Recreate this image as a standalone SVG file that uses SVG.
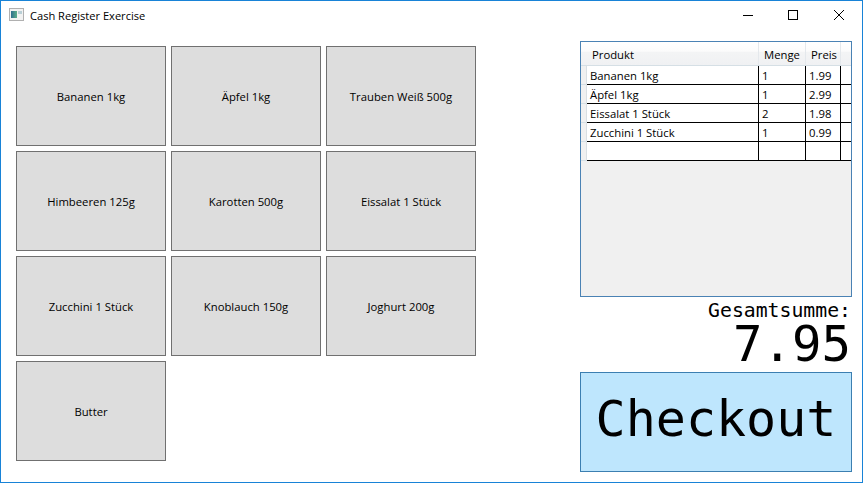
<svg xmlns="http://www.w3.org/2000/svg" width="863" height="483" viewBox="0 0 863 483">
<style>
.ui{font-family:"Open Sans","Noto Sans","Liberation Sans",sans-serif;font-size:11.300px;fill:#000}
.btn rect{fill:#dddddd;stroke:#707070;stroke-width:1}
.btn text{text-anchor:middle}
.mono{font-family:"DejaVu Sans Mono","Liberation Mono",monospace;fill:#000}
.grid{stroke:#000;stroke-width:1;fill:none}
</style>
<defs>
<linearGradient id="hdr" x1="0" y1="0" x2="0" y2="1"><stop offset="0" stop-color="#ffffff"/><stop offset="0.4" stop-color="#fbfbfb"/><stop offset="0.45" stop-color="#f3f4f5"/><stop offset="1" stop-color="#f0f1f3"/></linearGradient>
<linearGradient id="ico" x1="0" y1="0" x2="1" y2="0"><stop offset="0" stop-color="#2f6f8f"/><stop offset="1" stop-color="#5cae8a"/></linearGradient>
</defs>
<rect x="0" y="0" width="863" height="483" fill="#fff"/>
<rect x="0.5" y="0.5" width="862" height="482" fill="none" stroke="#1883d7"/>
<g id="titlebar">
<rect x="9.5" y="8.5" width="14" height="12" fill="#f2f2f2" stroke="#b0b0b0"/>
<rect x="11" y="11" width="6" height="7" fill="url(#ico)"/>
<rect x="18" y="11" width="4" height="3" fill="#b9cfd6"/>
<text class="ui" x="30" y="20" style="font-size:11.1px">Cash Register Exercise</text>
<path d="M743 15.5H753" stroke="#000" fill="none"/>
<rect x="788.5" y="10.5" width="9" height="9" fill="none" stroke="#000"/>
<path d="M834 10L844 20M844 10L834 20" stroke="#000" fill="none"/>
</g>
<g id="btn-1" class="btn"><rect x="16.500" y="46.500" width="149" height="99"/><text class="ui" x="91" y="101">Bananen 1kg</text></g>
<g id="btn-2" class="btn"><rect x="171.500" y="46.500" width="149" height="99"/><text class="ui" x="246" y="101">Äpfel 1kg</text></g>
<g id="btn-3" class="btn"><rect x="326.500" y="46.500" width="149" height="99"/><text class="ui" x="401" y="101">Trauben Weiß 500g</text></g>
<g id="btn-4" class="btn"><rect x="16.500" y="151.500" width="149" height="99"/><text class="ui" x="91" y="206">Himbeeren 125g</text></g>
<g id="btn-5" class="btn"><rect x="171.500" y="151.500" width="149" height="99"/><text class="ui" x="246" y="206">Karotten 500g</text></g>
<g id="btn-6" class="btn"><rect x="326.500" y="151.500" width="149" height="99"/><text class="ui" x="401" y="206">Eissalat 1 Stück</text></g>
<g id="btn-7" class="btn"><rect x="16.500" y="256.500" width="149" height="99"/><text class="ui" x="91" y="311">Zucchini 1 Stück</text></g>
<g id="btn-8" class="btn"><rect x="171.500" y="256.500" width="149" height="99"/><text class="ui" x="246" y="311">Knoblauch 150g</text></g>
<g id="btn-9" class="btn"><rect x="326.500" y="256.500" width="149" height="99"/><text class="ui" x="401" y="311">Joghurt 200g</text></g>
<g id="btn-10" class="btn"><rect x="16.500" y="361.500" width="149" height="99"/><text class="ui" x="91" y="416">Butter</text></g>
<g id="table">
<rect x="580.500" y="41.500" width="271" height="255" fill="#f0f0f0" stroke="#4a82b4"/>
<rect x="581" y="42" width="270" height="23" fill="url(#hdr)"/>
<path d="M581 65.500H851" stroke="#d5dfe5" fill="none"/>
<path d="M758.500 42V65M805.500 42V65M840.500 42V65" stroke="#e4e8ec" fill="none"/>
<rect x="587" y="66" width="264" height="95" fill="#fff"/>
<path d="M581 84.500H587M581 103.500H587M581 122.500H587M581 141.500H587M581 160.500H587" stroke="#d5dfe5" fill="none"/>
<path d="M586.500 66V161" stroke="#d9dfe3" fill="none"/>
<path class="grid" d="M587 84.500H851M587 103.500H851M587 122.500H851M587 141.500H851M587 160.500H851M758.500 66V161M805.500 66V161M840.500 66V161"/>
<text class="ui" x="592" y="59">Produkt</text>
<text class="ui" x="764" y="59">Menge</text>
<text class="ui" x="811" y="59">Preis</text>
<text class="ui" x="590" y="80">Bananen 1kg</text><text class="ui" x="762" y="80">1</text><text class="ui" x="809" y="80">1.99</text>
<text class="ui" x="590" y="99">Äpfel 1kg</text><text class="ui" x="762" y="99">1</text><text class="ui" x="809" y="99">2.99</text>
<text class="ui" x="590" y="118">Eissalat 1 Stück</text><text class="ui" x="762" y="118">2</text><text class="ui" x="809" y="118">1.98</text>
<text class="ui" x="590" y="137">Zucchini 1 Stück</text><text class="ui" x="762" y="137">1</text><text class="ui" x="809" y="137">0.99</text>
</g>
<g id="total">
<text class="mono" x="851" y="317" font-size="19.800" text-anchor="end">Gesamtsumme:</text>
<text class="mono" x="851" y="361" font-size="49" text-anchor="end">7.95</text>
</g>
<g id="checkout">
<rect x="580.500" y="372.500" width="271" height="99" fill="#bee6fd" stroke="#3c7fb1"/>
<text class="mono" x="716" y="436" font-size="50" text-anchor="middle">Checkout</text>
</g>
</svg>
